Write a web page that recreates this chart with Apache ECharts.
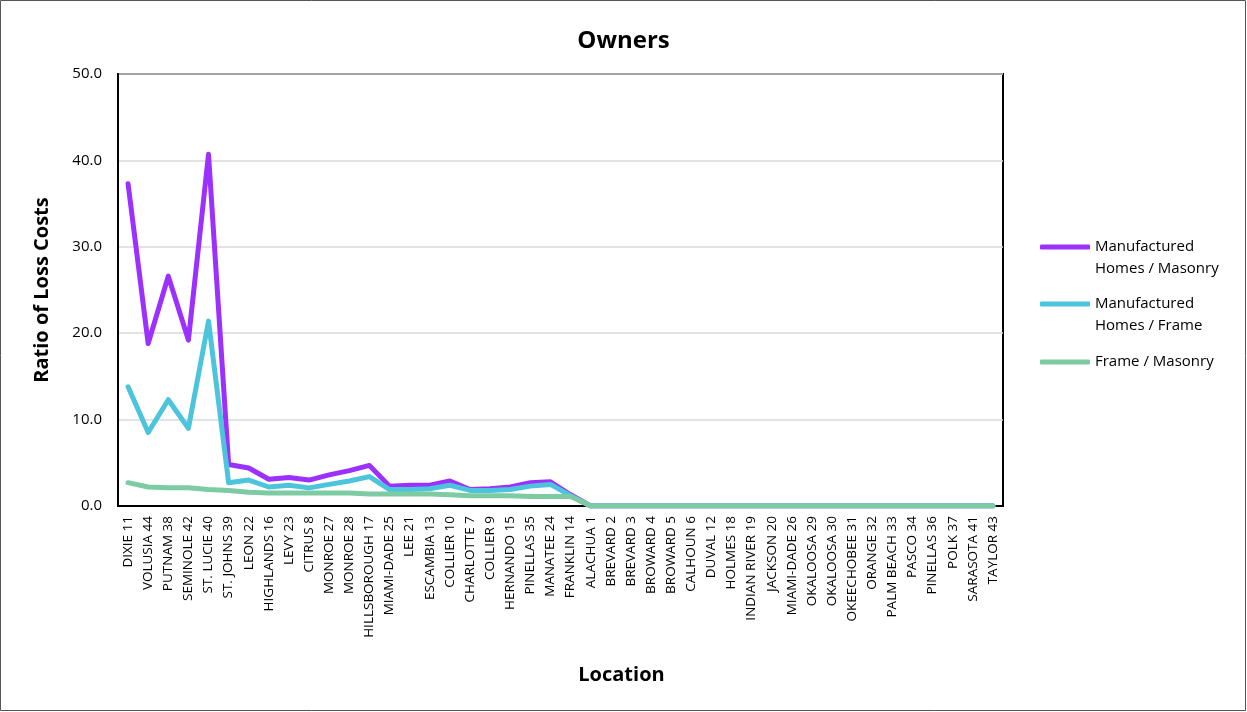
<!DOCTYPE html>
<html>
<head>
<meta charset="utf-8">
<script src="https://cdn.jsdelivr.net/npm/echarts@6/dist/echarts.min.js"></script>
<style>
html,body{margin:0;padding:0;background:#fff;}
#chart{width:1247px;height:712px;}
</style>
</head>
<body>
<div id="chart"></div>
<script>
const categories = ["DIXIE 11","VOLUSIA 44","PUTNAM 38","SEMINOLE 42","ST. LUCIE 40","ST. JOHNS 39","LEON 22","HIGHLANDS 16","LEVY 23","CITRUS 8","MONROE 27","MONROE 28","HILLSBOROUGH 17","MIAMI-DADE 25","LEE 21","ESCAMBIA 13","COLLIER 10","CHARLOTTE 7","COLLIER 9","HERNANDO 15","PINELLAS 35","MANATEE 24","FRANKLIN 14","ALACHUA 1","BREVARD 2","BREVARD 3","BROWARD 4","BROWARD 5","CALHOUN 6","DUVAL 12","HOLMES 18","INDIAN RIVER 19","JACKSON 20","MIAMI-DADE 26","OKALOOSA 29","OKALOOSA 30","OKEECHOBEE 31","ORANGE 32","PALM BEACH 33","PASCO 34","PINELLAS 36","POLK 37","SARASOTA 41","TAYLOR 43"];
const mhMasonry = [37.3,18.8,26.6,19.2,40.7,4.8,4.4,3.1,3.3,3.0,3.6,4.1,4.7,2.3,2.4,2.4,2.9,1.9,2.0,2.2,2.7,2.8,1.3,0,0,0,0,0,0,0,0,0,0,0,0,0,0,0,0,0,0,0,0,0];
const mhFrame = [13.8,8.5,12.3,9.0,21.4,2.7,3.0,2.2,2.4,2.1,2.5,2.9,3.4,1.9,1.9,2.0,2.4,1.8,1.8,1.9,2.3,2.5,1.2,0,0,0,0,0,0,0,0,0,0,0,0,0,0,0,0,0,0,0,0,0];
const frameMasonry = [2.7,2.2,2.1,2.1,1.9,1.8,1.6,1.5,1.5,1.5,1.5,1.5,1.4,1.4,1.4,1.4,1.3,1.2,1.2,1.2,1.1,1.1,1.1,0,0,0,0,0,0,0,0,0,0,0,0,0,0,0,0,0,0,0,0,0];
const seriesNames = ["Manufactured Homes / Masonry","Manufactured Homes / Frame","Frame / Masonry"];
const yTicks = {min:0, max:50, interval:10};

const FONT = "Open Sans";
const colors = ["#9B30FF","#4BC4DC","#7CCBA2"];
const chart = echarts.init(document.getElementById('chart'));
// leading blank line keeps the legend line aligned with the first text line
const legendLabels = {
  "Manufactured Homes / Masonry": " \nManufactured\nHomes / Masonry",
  "Manufactured Homes / Frame": " \nManufactured\nHomes / Frame",
  "Frame / Masonry": "Frame / Masonry"
};
function mk(name, data, color){
  return {name:name, type:'line', data:data, symbol:'none', showSymbol:false,
    lineStyle:{color:color, width:5, cap:'round', join:'round'}, itemStyle:{color:color}};
}
function lg(name, top){
  return {data:[name], left:1040, top:top, padding:0, orient:'vertical', icon:'roundRect', itemWidth:50, itemHeight:5, itemGap:0,
    formatter:n=>legendLabels[n], textStyle:{fontFamily:FONT, fontSize:15, color:'#000', lineHeight:22}};
}
chart.setOption({
  animation:false,
  title:{text:'Owners', left:'center', top:24, textStyle:{fontFamily:FONT, fontSize:24, fontWeight:'bold', color:'#000'}},
  graphic:[{type:'rect', shape:{x:0.5,y:0.5,width:1245,height:710}, style:{fill:'none', stroke:'#555', lineWidth:1}, silent:true}],
  grid:{left:118, right:244, top:74, bottom:206, show:true, borderColor:'#000', borderWidth:2, backgroundColor:'#fff'},
  legend:[lg(seriesNames[0], 214), lg(seriesNames[1], 271), lg(seriesNames[2], 351)],
  xAxis:{type:'category', data:categories, boundaryGap:true,
    name:'Location', nameLocation:'middle', nameGap:159,
    nameTextStyle:{fontFamily:FONT, fontSize:20, fontWeight:'bold', color:'#000', padding:[0,0,0,122]},
    axisLine:{show:true, lineStyle:{color:'#000', width:2}}, axisTick:{show:false},
    axisLabel:{interval:0, rotate:90, fontFamily:FONT, fontSize:13.5, color:'#000', margin:10}},
  yAxis:{type:'value', min:yTicks.min, max:yTicks.max, interval:yTicks.interval,
    name:'Ratio of Loss Costs', nameLocation:'middle', nameGap:66,
    nameTextStyle:{fontFamily:FONT, fontSize:20, fontWeight:'bold', color:'#000'},
    axisLine:{show:true, lineStyle:{color:'#000', width:2}}, axisTick:{show:false},
    splitLine:{lineStyle:{color:'#D9D9D9', width:1.5}},
    axisLabel:{formatter:v=>v.toFixed(1), fontFamily:FONT, fontSize:15, color:'#000', margin:16}},
  series:[mk(seriesNames[0], mhMasonry, colors[0]), mk(seriesNames[1], mhFrame, colors[1]), mk(seriesNames[2], frameMasonry, colors[2])]
});
</script>
</body>
</html>
